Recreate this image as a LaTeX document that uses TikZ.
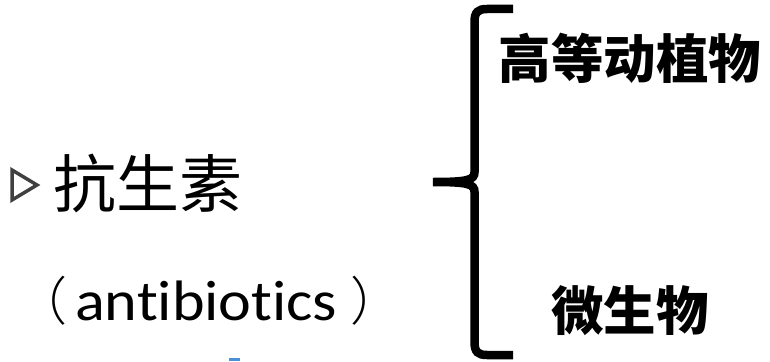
\documentclass[tikz,border=0pt]{standalone}
\usepackage{fontspec}
\usepackage{graphicx}
\newfontfamily\cjk{Noto Sans CJK SC}
\newfontfamily\cjklight{Noto Sans CJK SC Light}
\newfontfamily\carlitofont[Ligatures=NoCommon]{Carlito}
\definecolor{tri}{HTML}{404040}
\definecolor{bluemark}{HTML}{4A90D9}
\begin{document}
\begin{tikzpicture}[x=1pt,y=-1pt,
  big/.style={inner sep=0pt,font=\cjk\fontsize{63}{70}\selectfont},
  head/.style={inner sep=0pt,font=\cjk\bfseries\fontsize{52.5}{60}\selectfont},
  eng/.style={inner sep=0pt,font=\carlitofont\fontsize{57}{66}\selectfont},
  paren/.style={inner sep=0pt,font=\cjklight\fontsize{52}{60}\selectfont},
  bracestroke/.style={line width=8.5pt,line join=miter}]
\useasboundingbox (0,0) rectangle (770,361);
% bullet triangle
\draw[tri,line width=3.5pt,line join=miter] (12,170) -- (37,185) -- (12,200) -- cycle;
\node[big,anchor=west] (kss) at (53,183) {抗生素};
\node[eng,anchor=base west] (anti) at (75,320) {\scalebox{1.09}[1]{antibiotics}};
\node[paren,anchor=base east] (lp) at ([xshift=-7pt]anti.base west) {（};
\node[paren,anchor=base west] (rp) at ([xshift=13pt]anti.base east) {）};
% brace
\coordinate (btop) at (513,9);
\coordinate (bbot) at (513,355);
\coordinate (tip) at (433,182);
\draw[bracestroke] (btop) -- (487,9) .. controls (478,9) and (474.5,12) .. (474.5,22)
  -- (474.5,172) .. controls (474.5,180) and (468,182) .. (tip)
  .. controls (468,182) and (474.5,184) .. (474.5,192)
  -- (474.5,342) .. controls (474.5,352) and (478,355) .. (487,355) -- (bbot);
\node[head] (gd) at (630,58) {高等动植物};
\node[head] (wsw) at (630,311) {微生物};
\fill[bluemark] (229,358) rectangle (240,361);
\end{tikzpicture}
\end{document}
